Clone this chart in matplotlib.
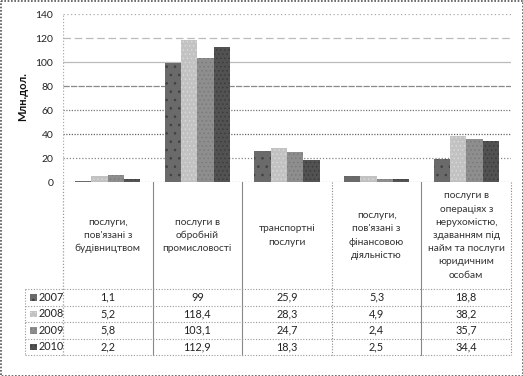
import matplotlib
matplotlib.use("Agg")
import matplotlib.pyplot as plt
import matplotlib.transforms as mtransforms
from matplotlib.patches import Rectangle
import numpy as np

categories = [
    "послуги,\nпов'язані з\nбудівництвом",
    "послуги в\nобробній\nпромисловості",
    "транспортні\nпослуги",
    "послуги,\nпов'язані з\nфінансовою\nдіяльністю",
    "послуги в\nопераціях з\nнерухомістю,\nздаванням під\nнайм та послуги\nюридичним\nособам",
]
years = ["2007", "2008", "2009", "2010"]
v2007 = [1.1, 99, 25.9, 5.3, 18.8]
v2008 = [5.2, 118.4, 28.3, 4.9, 38.2]
v2009 = [5.8, 103.1, 24.7, 2.4, 35.7]
v2010 = [2.2, 112.9, 18.3, 2.5, 34.4]
labels2007 = ["1,1", "99", "25,9", "5,3", "18,8"]
labels2008 = ["5,2", "118,4", "28,3", "4,9", "38,2"]
labels2009 = ["5,8", "103,1", "24,7", "2,4", "35,7"]
labels2010 = ["2,2", "112,9", "18,3", "2,5", "34,4"]
yticks = [0, 20, 40, 60, 80, 100, 120, 140]

series = [v2007, v2008, v2009, v2010]
series_labels = [labels2007, labels2008, labels2009, labels2010]
colors = ["#6a6a6a", "#c2c2c2", "#8e8e8e", "#525252"]
hatchcols = ["#404040", "#d8d8d8", "#7a7a7a", "#3c3c3c"]
hatches = ["..", "....", "....", "...."]

plt.rcParams['font.family'] = ['Lato', 'DejaVu Sans']
plt.rcParams['hatch.linewidth'] = 0.6
W, H = 523, 376
fig = plt.figure(figsize=(W / 100, H / 100), dpi=100)

pix = fig.add_axes([0, 0, 1, 1])
pix.set_xlim(0, W)
pix.set_ylim(H, 0)
pix.axis("off")

L, R, T, B = 63, 511, 14, 182
ax = fig.add_axes([L / W, (H - B) / H, (R - L) / W, (B - T) / H])
ax.set_xlim(-0.5, len(categories) - 0.5)
ax.set_ylim(0, 140)
ax.patch.set_alpha(0)

x = np.arange(len(categories))
bw = 0.182
for i, vals in enumerate(series):
    ax.bar(x + (i - 1.5) * bw, vals, width=bw, color=colors[i],
           edgecolor=hatchcols[i], hatch=hatches[i], linewidth=0, zorder=3)

grid_styles = [None, (0, (1, 1.5)), (0, (1, 1.2)), (0, (1, 1.2)), (0, (5, 1)),
               "-", (0, (6, 3)), (0, (1, 2))]
grid_colors = [None, "#888888", "#666666", "#777777", "#888888",
               "#bbbbbb", "#bbbbbb", "#aaaaaa"]
for k, t in enumerate(yticks):
    if k == 0:
        continue
    ax.axhline(t, color=grid_colors[k], linestyle=grid_styles[k], lw=0.9, zorder=1)
ax.axhline(0, color="#888888", linestyle=(0, (1, 1.5)), lw=0.9, zorder=4)

ax.set_yticks(yticks)
ax.set_yticklabels([str(t) for t in yticks], fontsize=7.5, color="#222222")
ax.set_xticks([])
ax.tick_params(axis="y", length=0, pad=7)
for s in ax.spines.values():
    s.set_visible(False)
ax.axvline(-0.5, color="#aaaaaa", linestyle=(0, (1, 1.5)), lw=0.9)

pix.text(23, 97, "Млн.дол.", rotation=90, ha="center", va="center",
         fontsize=8, fontweight="bold", color="#111111")

bt = mtransforms.blended_transform_factory(ax.transData, pix.transData)
row_tops = [289, 305.5, 322, 338.5, 355]
leg_left = 25
for j in range(len(categories) + 1):
    xs = j - 0.5
    if j == 0:
        pix.plot([L, L], [B, row_tops[-1]], color="#999999",
                 linestyle=(0, (1, 1.5)), lw=0.9)
        continue
    st = "-" if j in (1, 2, 4) else (0, (1, 1.5))
    pix.plot([xs, xs], [B, row_tops[-1]], transform=bt, color="#888888",
             linestyle=st, lw=0.8)
for j, c in enumerate(categories):
    pix.text(j, (B + row_tops[0]) / 2, c, transform=bt, ha="center", va="center",
             fontsize=7.3, color="#333333", linespacing=1.6)
for y in row_tops:
    pix.plot([leg_left, R], [y, y], color="#999999", linestyle=(0, (1, 1.5)), lw=0.8)
pix.plot([leg_left, leg_left], [row_tops[0], row_tops[-1]], color="#999999",
         linestyle=(0, (1, 1.5)), lw=0.8)
for i in range(len(years)):
    yc = (row_tops[i] + row_tops[i + 1]) / 2
    pix.add_patch(Rectangle((30, yc - 3.2), 6.5, 6.5, facecolor=colors[i],
                            edgecolor=hatchcols[i], hatch=hatches[i], lw=0))
    pix.text(39, yc, years[i], ha="left", va="center", fontsize=7.8, color="#222222")
    for j in range(len(categories)):
        pix.text(j, yc, series_labels[i][j], transform=bt, ha="center", va="center",
                 fontsize=7.8, color="#222222")

pix.add_patch(Rectangle((0.5, 0.5), W - 1, H - 1, fill=False, edgecolor="#555555",
                        linestyle=(0, (1, 1)), lw=1.2))

fig.savefig("out.png", dpi=100)
